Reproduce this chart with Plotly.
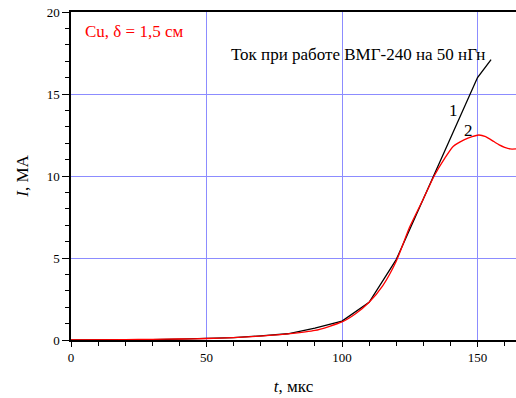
import plotly.graph_objects as go

t1 = [0, 10, 20, 30, 40, 50, 60, 70, 80, 90, 100, 110, 120, 130, 140, 150, 155]
i1 = [0, 0, 0, 0.02, 0.05, 0.09, 0.15, 0.25, 0.38, 0.72, 1.15, 2.3, 4.9, 8.6, 12.3, 16.0, 17.1]

t2 = [0, 20, 30, 40, 50, 60, 70, 80, 90, 100, 105, 110, 115, 120, 125, 130, 134, 138, 141, 145, 148, 150.5, 153, 156, 158, 160, 162, 164.2]
i2 = [0, 0.02, 0.04, 0.06, 0.09, 0.15, 0.24, 0.37, 0.58, 1.1, 1.6, 2.3, 3.3, 4.8, 6.9, 8.6, 10.0, 11.1, 11.8, 12.2, 12.4, 12.5, 12.4, 12.1, 11.9, 11.75, 11.65, 11.65]

xticks = [0, 50, 100, 150]
yticks = [0, 5, 10, 15, 20]

FONT = "Liberation Serif"

fig = go.Figure()
fig.add_trace(go.Scatter(x=t1, y=i1, mode="lines", line=dict(color="black", width=1.3), showlegend=False))
fig.add_trace(go.Scatter(x=t2, y=i2, mode="lines", line=dict(color="red", width=1.3, shape="spline", smoothing=0.6), showlegend=False))

axis_common = dict(
    showline=True, linecolor="black", linewidth=1.5,
    showgrid=True, gridcolor="#8c8cff", gridwidth=1,
    zeroline=False, ticks="outside", tickcolor="black", tickwidth=1,
    tickfont=dict(family=FONT, size=13, color="black"),
)

fig.update_xaxes(
    **axis_common, range=[0, 164.2], tickvals=xticks, ticklen=5, mirror=True,
    minor=dict(dtick=10, tick0=0, ticklen=4, ticks="outside", tickcolor="black", showgrid=False),
    title=dict(text="<i>t</i>, мкс", font=dict(family=FONT, size=17, color="black"), standoff=16),
)
fig.update_yaxes(
    **axis_common, range=[0, 20], tickvals=yticks, ticklen=7,
    minor=dict(dtick=1, tick0=0, ticklen=4, ticks="outside", tickcolor="black", showgrid=False),
    title=dict(text="<i>I</i>, МА", font=dict(family=FONT, size=17, color="black"), standoff=14),
)

fig.add_annotation(x=23.2, y=18.8, text="Cu, δ = 1,5 см", showarrow=False,
                   font=dict(family=FONT, size=17, color="red"))
fig.add_annotation(x=105.9, y=17.4, text="Ток при работе ВМГ-240 на 50 нГн", showarrow=False,
                   font=dict(family=FONT, size=17, color="black"))
fig.add_annotation(x=141, y=14.0, text="1", showarrow=False, font=dict(family=FONT, size=17, color="black"))
fig.add_annotation(x=146.5, y=12.8, text="2", showarrow=False, font=dict(family=FONT, size=17, color="black"))

fig.update_layout(
    width=516, height=398,
    margin=dict(l=71, r=0, t=12, b=58),
    plot_bgcolor="white", paper_bgcolor="white",
)

fig.write_html("out.html")
